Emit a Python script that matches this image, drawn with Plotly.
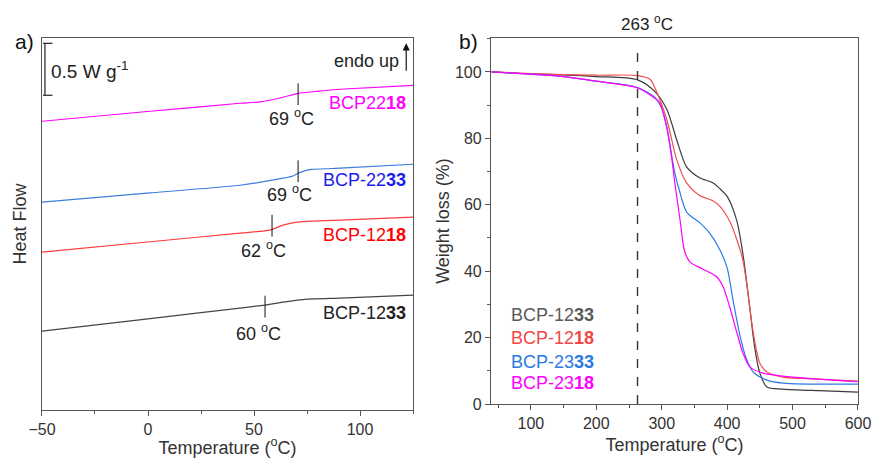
import plotly.graph_objects as go
from plotly.subplots import make_subplots

FONT = "Liberation Sans, Arial, sans-serif"

# ---- a) DSC traces (temperature in C, heat flow in W/g, offset) ----
dsc_T_2218 = [-50, 1, 43.4, 52.8, 63.7, 70.8, 79.7, 90.6, 125]
dsc_H_2218 = [2.779, 2.875, 2.952, 2.965, 3.010, 3.048, 3.067, 3.087, 3.125]

dsc_T_2233 = [-50, 1, 43.4, 63.7, 68.4, 71.5, 77.0, 90.6, 125]
dsc_H_2233 = [2.000, 2.089, 2.163, 2.231, 2.252, 2.285, 2.315, 2.327, 2.365]

dsc_T_1218 = [-50, 1, 43.4, 57.5, 63.7, 70.3, 90.6, 125]
dsc_H_1218 = [1.519, 1.619, 1.702, 1.731, 1.779, 1.808, 1.827, 1.856]

dsc_T_1233 = [-50, 1, 43.4, 55.2, 63.7, 75.0, 90.6, 125]
dsc_H_1233 = [0.760, 0.880, 0.981, 1.010, 1.038, 1.067, 1.077, 1.106]

# Tg markers: position on trace, label text
tg_T = [70.8, 70.8, 58.5, 55.2]
tg_H = [3.039, 2.298, 1.774, 0.995]
tg_text = ["69 <sup>o</sup>C", "69 <sup>o</sup>C", "62 <sup>o</sup>C", "60 <sup>o</sup>C"]
tg_label_T = [67.9, 66.9, 54.3, 51.9]
tg_label_H = [2.817, 2.087, 1.548, 0.750]

dsc_names = ["BCP22<b>18</b>", "BCP-22<b>33</b>", "BCP-12<b>18</b>", "BCP-12<b>33</b>"]
dsc_name_H = [2.952, 2.212, 1.683, 0.933]

# ---- b) TGA traces ----
tga_T_1233 = [40, 100, 150, 200, 263, 290, 308, 323, 338, 358, 378, 389, 400, 415, 425, 435, 442, 450, 461, 485, 540, 600]
tga_W_1233 = [100, 99.4, 99.1, 98.6, 97.6, 94, 88.6, 79.5, 71.4, 68.1, 66.6, 64.8, 62.5, 55, 44, 28.3, 17.2, 9.3, 5.1, 4.5, 4.0, 3.6]

tga_T_1218 = [40, 100, 150, 200, 263, 282, 290, 308, 323, 338, 358, 378, 389, 404, 415, 424, 430, 440, 450, 461, 485, 537, 600]
tga_W_1218 = [100, 99.5, 99.2, 99.0, 98.9, 97.8, 95.0, 85.5, 73.5, 66.6, 62.8, 61.2, 59.5, 55, 49.4, 43.4, 36, 21.4, 12.3, 9.6, 8.1, 7.5, 6.9]

tga_T_2333 = [40, 100, 150, 200, 263, 290, 299, 308, 313, 320, 328, 338, 358, 373, 389, 400, 409, 420, 430, 440, 461, 485, 600]
tga_W_2333 = [100, 99.3, 98.6, 97.2, 95.3, 92.2, 89.5, 83.4, 77.4, 69.6, 63.6, 57.8, 54.6, 51.5, 46.4, 41, 31.3, 20.2, 13.3, 9.6, 7.2, 6.3, 6.0]

tga_T_2318 = [40, 100, 150, 200, 263, 290, 297, 305, 313, 320, 328, 335, 343, 363, 384, 394, 404, 415, 424, 435, 455, 485, 600]
tga_W_2318 = [100, 99.3, 98.6, 97.2, 95.2, 92.0, 90.7, 85.5, 77.4, 66.6, 55.4, 46, 42.8, 40.6, 38.3, 35.2, 29.2, 21.4, 15.4, 11.1, 9.3, 8.4, 6.7]

tga_names = ["BCP-12<b>33</b>", "BCP-12<b>18</b>", "BCP-23<b>33</b>", "BCP-23<b>18</b>"]
tga_name_W = [26.8, 19.9, 12.7, 6.3]
onset_T = 263

DSC_LINE = ["#ff00ff", "#3b7ddd", "#ff3b3b", "#444444"]
DSC_TEXT = ["#ff00ff", "#1c1cf0", "#ff0000", "#222222"]
TGA_LINE = ["#3c3c3c", "#f05050", "#2b7be4", "#ff00ff"]
TGA_TEXT = ["#5a5a5a", "#f04848", "#2a7ae2", "#ff00ff"]

fig = make_subplots(rows=1, cols=2)

dsc = [(dsc_T_2218, dsc_H_2218), (dsc_T_2233, dsc_H_2233), (dsc_T_1218, dsc_H_1218), (dsc_T_1233, dsc_H_1233)]
for (t, h), c in zip(dsc, DSC_LINE):
    fig.add_trace(go.Scatter(x=t, y=h, mode="lines", line=dict(color=c, width=1.2, shape="spline", smoothing=0.4),
                             showlegend=False, hoverinfo="skip"), row=1, col=1)

tga = [(tga_T_1233, tga_W_1233), (tga_T_1218, tga_W_1218), (tga_T_2333, tga_W_2333), (tga_T_2318, tga_W_2318)]
for (t, w), c in zip(tga, TGA_LINE):
    fig.add_trace(go.Scatter(x=t, y=w, mode="lines", line=dict(color=c, width=1.2, shape="spline", smoothing=0.8),
                             showlegend=False, hoverinfo="skip"), row=1, col=2)

# Tg tick marks
for t, h in zip(tg_T, tg_H):
    fig.add_shape(type="line", x0=t, x1=t, y0=h - 0.105, y1=h + 0.105, xref="x", yref="y",
                  line=dict(color="#111", width=1))

annos = []
for txt, t, h in zip(tg_text, tg_label_T, tg_label_H):
    annos.append(dict(x=t, y=h, xref="x", yref="y", text=txt, showarrow=False,
                      font=dict(size=18, color="#222")))
for txt, h, c in zip(dsc_names, dsc_name_H, DSC_TEXT):
    annos.append(dict(x=122.5, y=h, xref="x", yref="y", text=txt, showarrow=False, xanchor="right",
                      font=dict(size=18, color=c)))
for txt, w, c in zip(tga_names, tga_name_W, TGA_TEXT):
    annos.append(dict(x=66, y=w, xref="x2", yref="y2", text=txt, showarrow=False, xanchor="left",
                      font=dict(size=18, color=c)))

# scale bar 0.5 W/g
bar_x, bar_top, bar_len = -48.6, 3.529, 0.5
fig.add_shape(type="line", x0=bar_x, x1=bar_x, y0=bar_top - bar_len, y1=bar_top, xref="x", yref="y",
              line=dict(color="#222", width=1.2))
for yy in [bar_top, bar_top - bar_len]:
    fig.add_shape(type="line", x0=bar_x - 0.9, x1=bar_x + 3.5, y0=yy, y1=yy, xref="x", yref="y",
                  line=dict(color="#222", width=1.2))
annos.append(dict(x=-46.5, y=3.27, xref="x", yref="y", text="0.5 W g<sup>-1</sup>", showarrow=False,
                  xanchor="left", font=dict(size=19, color="#222")))
annos.append(dict(x=119.5, y=3.36, xref="x", yref="y", text="endo up", showarrow=False,
                  xanchor="right", font=dict(size=18, color="#222")))
annos.append(dict(x=121.8, y=3.53, ax=121.8, ay=3.25, xref="x", yref="y", axref="x", ayref="y", text="",
                  showarrow=True, arrowhead=2, arrowsize=1.2, arrowwidth=1.2, arrowcolor="#111"))

# onset line
fig.add_shape(type="line", x0=onset_T, x1=onset_T, y0=0, y1=0.98, xref="x2", yref="y2 domain",
              line=dict(color="#333", width=1.4, dash="dash"))
annos.append(dict(x=onset_T, y=0.950, xref="x2", yref="paper", xshift=9, yanchor="middle",
                  text="263 <sup>o</sup>C", showarrow=False, font=dict(size=17, color="#222")))

annos.append(dict(x=0.0286, y=0.910, xref="paper", yref="paper", xanchor="center", yanchor="middle",
                  text="a)", showarrow=False, font=dict(size=21, color="#111")))
annos.append(dict(x=0.537, y=0.910, xref="paper", yref="paper", xanchor="center", yanchor="middle",
                  text="b)", showarrow=False, font=dict(size=21, color="#111")))

axis_style = dict(showline=True, linecolor="#555", linewidth=1.2, mirror=True, showgrid=False, zeroline=False,
                  ticks="outside", ticklen=5, tickcolor="#555", automargin=False,
                  tickfont=dict(family=FONT, size=16, color="#333"))

fig.update_layout(
    width=873, height=458,
    margin=dict(l=0, r=0, t=0, b=0),
    paper_bgcolor="white", plot_bgcolor="white",
    font=dict(family=FONT, size=16, color="#333"),
    annotations=annos,
    xaxis=dict(domain=[0.0481, 0.4731], range=[-50, 125], tickvals=[-50, 0, 50, 100],
               ticktext=["\u221250", "0", "50", "100"],
               minor=dict(dtick=25, tick0=-50, ticks="outside", ticklen=3, tickcolor="#555"),
               title=dict(text="Temperature (<sup>o</sup>C)", font=dict(size=18, color="#333"), standoff=5),
               **axis_style),
    yaxis=dict(domain=[0.1048, 0.917], range=[0, 3.58], showticklabels=False, ticks="", automargin=False,
               title=dict(text="Heat Flow", font=dict(size=18, color="#333"), standoff=9),
               showline=True, linecolor="#555", linewidth=1.2, mirror=True, showgrid=False, zeroline=False),
    xaxis2=dict(domain=[0.5624, 0.9828], range=[39, 600], dtick=100, tick0=0,
                minor=dict(dtick=50, ticks="outside", ticklen=3, tickcolor="#555"),
                title=dict(text="Temperature (<sup>o</sup>C)", font=dict(size=18, color="#333"), standoff=5),
                **axis_style),
    yaxis2=dict(domain=[0.1179, 0.917], range=[0, 110.2], dtick=20, tick0=0,
                minor=dict(dtick=10, ticks="outside", ticklen=3, tickcolor="#555"),
                title=dict(text="Weight loss (%)", font=dict(size=18, color="#333"), standoff=0),
                **axis_style),
)

# the page body has a default 8px margin; remove it so the figure fills the window
fig.write_html("out.html", config={"displayModeBar": False},
               post_script="document.body.style.margin='0px';")
